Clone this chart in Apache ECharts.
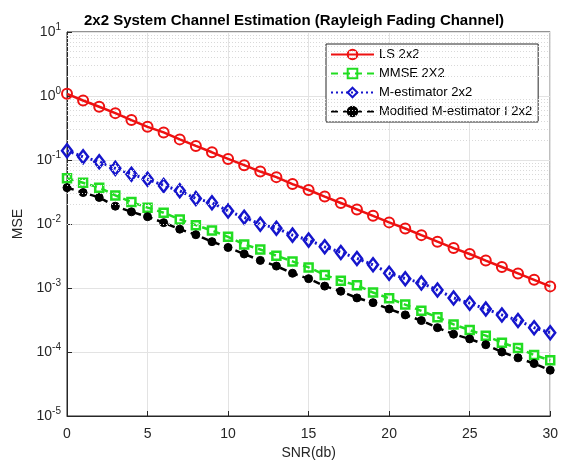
<!DOCTYPE html>
<html>
<head>
<meta charset="utf-8">
<script src="https://cdn.jsdelivr.net/npm/echarts@6/dist/echarts.min.js"></script>
<style>html,body{margin:0;padding:0;background:#fff}#c{width:561px;height:465px}</style>
</head>
<body>
<div id="c"></div>
<script>
var snr = [0,1,2,3,4,5,6,7,8,9,10,11,12,13,14,15,16,17,18,19,20,21,22,23,24,25,26,27,28,29,30];
var lsData = [1.08,0.85,0.68,0.54,0.42,0.33,0.27,0.21,0.166,0.132,0.104,0.083,0.066,0.054,0.042,0.034,0.0268,0.0213,0.0169,0.0134,0.0106,0.0085,0.0067,0.0053,0.0042,0.0034,0.00268,0.00213,0.00169,0.00134,0.00106];
var mmseData = [0.052,0.044,0.037,0.028,0.022,0.018,0.015,0.0118,0.0096,0.0079,0.0063,0.0048,0.0040,0.0032,0.0026,0.0021,0.0016,0.0013,0.0011,0.00085,0.00069,0.00055,0.00044,0.00035,0.00027,0.00022,0.00018,0.00014,0.000115,0.00009,0.000074];
var mestData = [0.14,0.112,0.094,0.074,0.060,0.050,0.040,0.033,0.025,0.0215,0.016,0.0127,0.0099,0.0086,0.0067,0.0056,0.0044,0.0036,0.0029,0.0023,0.0017,0.0014,0.0012,0.00093,0.0007,0.00058,0.00047,0.00038,0.00031,0.00024,0.0002];
var modData = [0.037,0.031,0.026,0.019,0.0155,0.013,0.0105,0.0083,0.0068,0.0053,0.0043,0.0034,0.0027,0.0022,0.0017,0.0014,0.00107,0.00089,0.0007,0.00059,0.00047,0.00038,0.00031,0.00024,0.00019,0.00016,0.00013,0.0001,0.000081,0.000066,0.000052];
var seriesNames = ['LS 2x2','MMSE 2X2','M-estimator 2x2','Modified M-estimator I 2x2'];
var yMin = 1e-5, yMax = 10;

function pairs(arr){ return snr.map(function(x,i){ return [x, arr[i]]; }); }
var minorLines = [];
for (var e = -5; e < 1; e++) { for (var m = 2; m <= 9; m++) { minorLines.push({yAxis: m * Math.pow(10, e)}); } }

var chart = echarts.init(document.getElementById('c'));
var axisColor = '#262626';
var clear = 'rgba(255,255,255,0)';
chart.setOption({
  animation: false,
  backgroundColor: '#fff',
  title: {
    text: '2x2 System Channel Estimation (Rayleigh Fading Channel)',
    left: 289, top: 8, textAlign: 'center',
    textStyle: {fontFamily: 'Liberation Sans, Arial', fontSize: 15, fontWeight: 'bold', color: '#000'}
  },
  grid: {left: 67, right: 9, top: 32, bottom: 48, show: true, borderColor: axisColor, borderWidth: 1, backgroundColor: '#fff'},
  legend: {
    orient: 'vertical', left: 326, top: 44,
    data: seriesNames,
    itemWidth: 43, itemHeight: 12, itemGap: 6,
    padding: [4, 6, 4, 4],
    backgroundColor: '#fff', borderColor: axisColor, borderWidth: 1,
    textStyle: {fontFamily: 'Liberation Sans, Arial', fontSize: 13, color: '#000'}
  },
  xAxis: {
    type: 'value', min: 0, max: 30, interval: 5,
    name: 'SNR(db)', nameLocation: 'middle', nameGap: 30,
    nameTextStyle: {fontFamily: 'Liberation Sans, Arial', fontSize: 14, color: axisColor},
    axisLine: {show: true, lineStyle: {color: axisColor}},
    axisTick: {show: true, inside: true, length: 5, lineStyle: {color: axisColor}},
    axisLabel: {fontFamily: 'Liberation Sans, Arial', fontSize: 14, color: axisColor, margin: 11},
    splitLine: {show: true, lineStyle: {color: '#e3e3e3', width: 1}}
  },
  yAxis: {
    type: 'log', logBase: 10, min: yMin, max: yMax,
    name: 'MSE', nameLocation: 'middle', nameGap: 38,
    nameTextStyle: {fontFamily: 'Liberation Sans, Arial', fontSize: 14, color: axisColor},
    axisLine: {show: true, lineStyle: {color: axisColor}},
    axisTick: {show: true, inside: true, length: 5, lineStyle: {color: axisColor}},
    axisLabel: {
      margin: 6,
      formatter: function(v){ var ex = Math.round(Math.log10(v)); return '{b|10}{s|' + ex + '}'; },
      rich: {
        b: {fontFamily: 'Liberation Sans, Arial', fontSize: 14, color: axisColor},
        s: {fontFamily: 'Liberation Sans, Arial', fontSize: 10, color: axisColor, padding: [0,0,10,0]}
      }
    },
    splitLine: {show: true, lineStyle: {color: '#e3e3e3', width: 1}}
  },
  series: [
    {
      name: 'grid-minor', type: 'line', data: [], silent: true,
      markLine: {silent: true, symbol: 'none', label: {show: false},
        lineStyle: {color: '#d9d9d9', type: [1, 2], width: 1}, data: minorLines}
    },
    {
      name: seriesNames[0], type: 'line', data: pairs(lsData),
      symbol: 'circle', symbolSize: 10,
      itemStyle: {color: clear, borderColor: '#ee1111', borderWidth: 2},
      lineStyle: {color: '#ee1111', width: 2.5}, z: 5
    },
    {
      name: seriesNames[1], type: 'line', data: pairs(mmseData),
      symbol: 'rect', symbolSize: 8,
      itemStyle: {color: clear, borderColor: '#22dd22', borderWidth: 2.5},
      lineStyle: {color: '#22dd22', width: 2.5, type: [7, 5]}, z: 4
    },
    {
      name: seriesNames[2], type: 'line', data: pairs(mestData),
      symbol: 'diamond', symbolSize: [10, 13],
      itemStyle: {color: clear, borderColor: '#1515cc', borderWidth: 2.5},
      lineStyle: {color: '#1515cc', width: 3, type: [2, 3]}, z: 4
    },
    {
      name: seriesNames[3], type: 'line', data: pairs(modData),
      symbol: 'circle', symbolSize: 8,
      itemStyle: {color: '#000', borderColor: '#000', borderWidth: 1},
      lineStyle: {color: '#000', width: 2.5, type: [7, 5]}, z: 4
    }
  ]
});
</script>
</body>
</html>
